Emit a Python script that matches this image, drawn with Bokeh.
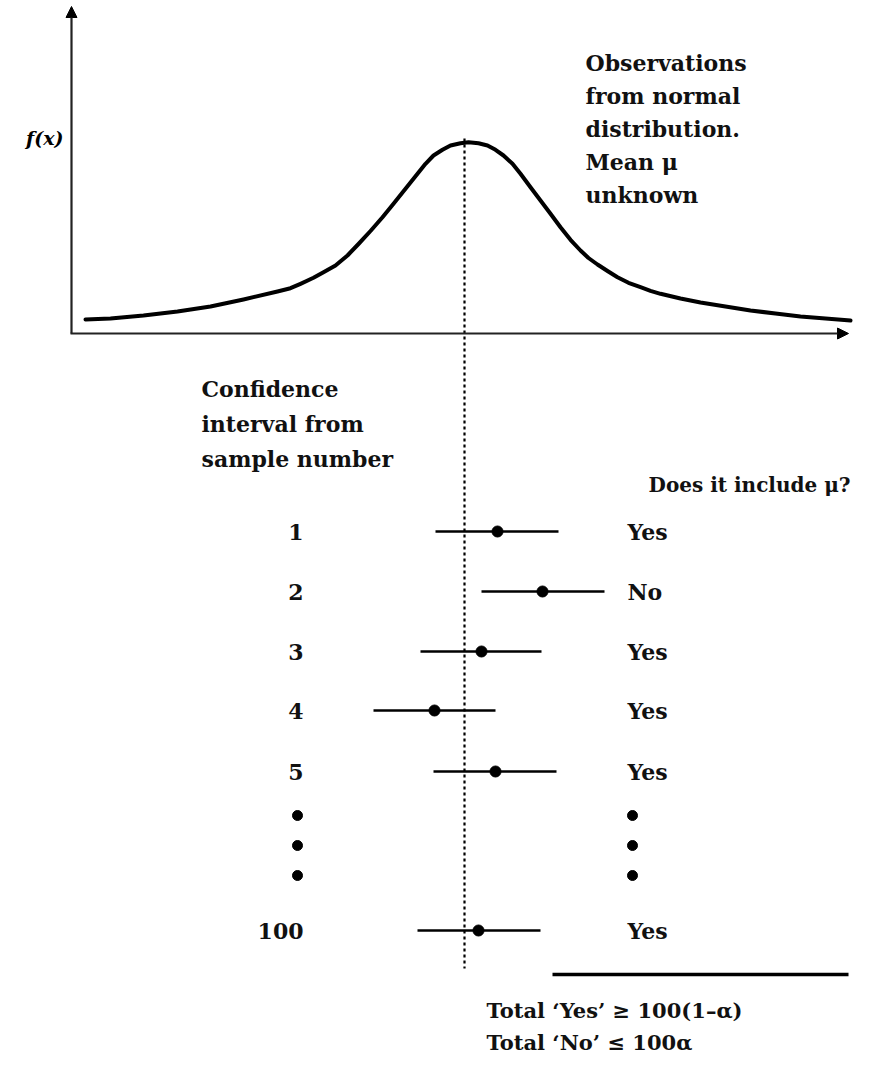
from bokeh.plotting import figure
from bokeh.models import Range1d, ColumnDataSource, Arrow, NormalHead
from bokeh.core.properties import value
from bokeh.embed import file_html
from bokeh.resources import INLINE

# ---- data (diagram coordinates, y grows downward) ----
curve_x = [85, 110, 143, 177, 210, 243, 277, 290, 300, 313, 323, 335, 347, 358, 370,
           382, 393, 405, 417, 425, 433, 442, 450, 460, 468, 478, 487, 495, 503, 512,
           520, 530, 540, 550, 560, 570, 580, 588, 597, 607, 617, 628, 640, 650, 660,
           680, 700, 725, 750, 775, 800, 825, 850]
curve_y = [319, 318, 315, 311, 306, 299, 291, 287.7, 283.3, 277.3, 271.7, 265, 255, 243.5, 230.5,
           216.7, 203.3, 188.3, 173.3, 163.3, 155, 149.3, 145, 142.7, 141.7, 142.7, 145, 149.3, 155, 163.3,
           173.3, 186.7, 200, 213.3, 226.7, 239.3, 250, 257.5, 264, 270.5, 276.7, 282.3, 286.7, 290.3, 293.3,
           298, 302, 306, 310, 313, 316, 318, 320]

mu_x = 464
sample_labels = ["1", "2", "3", "4", "5", "100"]
sample_y = [531, 591, 651, 710, 771, 930]
ci_center = [497, 542, 481, 434, 495, 478]
ci_lower = [435, 481, 420, 373, 433, 417]
ci_upper = [558, 604, 541, 495, 556, 540]
includes = ["Yes", "No", "Yes", "Yes", "Yes", "Yes"]
ellipsis_y = [815, 845, 875]

desc_lines = ["Observations", "from normal", "distribution.", "Mean \u03bc", "unknown"]
ci_title_lines = ["Confidence", "interval from", "sample number"]
total_lines = ["Total \u2018Yes\u2019 \u2265 100(1\u2013\u03b1)", "Total \u2018No\u2019 \u2264 100\u03b1"]

FONT = value("DejaVu Serif")
INK = "#111111"

p = figure(width=853, height=1055, x_range=Range1d(0, 853), y_range=Range1d(1055, 0),
           output_backend="svg", toolbar_location=None, min_border=0)
p.axis.visible = False
p.grid.visible = False
p.outline_line_color = None
p.background_fill_color = "white"

# axes with arrows
p.add_layout(Arrow(end=NormalHead(size=11, fill_color="black", line_color="black"),
                   x_start=71, y_start=333, x_end=71, y_end=6, line_width=2.2, line_color="#222222"))
p.add_layout(Arrow(end=NormalHead(size=11, fill_color="black", line_color="black"),
                   x_start=70, y_start=333, x_end=848, y_end=333, line_width=2.2, line_color="#222222"))
p.text(x=[63], y=[137], text=["f(x)"], text_font=FONT, text_font_style="bold italic",
       text_font_size="19px", text_align="right", text_baseline="middle", text_color="black")

# density curve
p.line(curve_x, curve_y, line_width=4, line_color="black", line_join="round", line_cap="round")

# mean line
p.line([mu_x, mu_x], [138, 968], line_width=2.2, line_color="black", line_dash="3 3")

# description text
p.text(x=[585] * len(desc_lines), y=[62 + 33 * i for i in range(len(desc_lines))], text=desc_lines,
       text_font=FONT, text_font_style="bold", text_font_size="22px",
       text_baseline="middle", text_color=INK)
p.text(x=[201] * len(ci_title_lines), y=[388 + 35 * i for i in range(len(ci_title_lines))],
       text=ci_title_lines, text_font=FONT, text_font_style="bold", text_font_size="22px",
       text_baseline="middle", text_color=INK)
p.text(x=[850], y=[484], text=["Does it include \u03bc?"], text_font=FONT, text_font_style="bold",
       text_font_size="20px", text_align="right", text_baseline="middle", text_color=INK)

# intervals
src = ColumnDataSource(dict(label=sample_labels, y=sample_y, c=ci_center, lo=ci_lower,
                            hi=ci_upper, inc=includes))
p.segment(x0="lo", x1="hi", y0="y", y1="y", source=src, line_width=2.5, line_color="black")
p.scatter(x="c", y="y", source=src, size=11, color="black")
p.text(x=303, y="y", text="label", source=src, text_font=FONT, text_font_style="bold",
       text_font_size="22px", text_align="right", text_baseline="middle", text_color=INK)
p.text(x=627, y="y", text="inc", source=src, text_font=FONT, text_font_style="bold",
       text_font_size="22px", text_align="left", text_baseline="middle", text_color=INK)

# ellipsis dots
p.scatter(x=[297] * 3, y=ellipsis_y, size=10, color="black")
p.scatter(x=[632] * 3, y=ellipsis_y, size=10, color="black")

# totals
p.line([552, 848], [974, 974], line_width=3.5, line_color="black")
p.text(x=[486, 486], y=[1010, 1042], text=total_lines, text_font=FONT, text_font_style="bold",
       text_font_size="21px", text_baseline="middle", text_color=INK)

open("out.html", "w").write(file_html(p, INLINE))
